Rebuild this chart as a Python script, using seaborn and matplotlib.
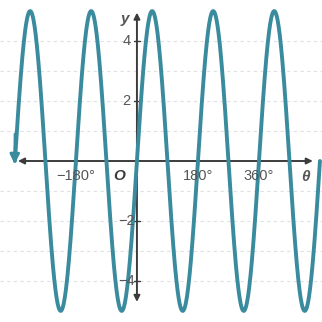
import numpy as np
import matplotlib
matplotlib.use("Agg")
import matplotlib.pyplot as plt
import seaborn as sns

# values: y = 5 sin(2 theta)
amplitude = 5
period_deg = 180
theta_start = -360
theta_end = 540
x_tick_values = [-180, 180, 360]
x_tick_labels = ["\u2212180\u00b0", "180\u00b0", "360\u00b0"]
y_tick_values = [4, 2, -2, -4]
y_tick_labels = ["4", "2", "\u22122", "\u22124"]
grid_levels = [-4, -3, -2, -1, 1, 2, 3, 4]

curve_color = "#3a8b9e"
axis_color = "#3c3c3c"
text_color = "#555555"

sns.set_theme(style="white")
plt.rcParams["font.family"] = ["Liberation Sans", "DejaVu Sans"]

theta = np.arange(theta_start, theta_end + 1, 1.0)
y = amplitude * np.sin(np.radians(theta) * 360 / period_deg)

fig = plt.figure(figsize=(3.22, 3.22), dpi=100)
ax = fig.add_axes([0, 0, 1, 1])
ax.set_xlim(-404, 546)
ax.set_ylim(-5.37, 5.37)
ax.axis("off")

# faint dashed grid
for g in grid_levels:
    ax.axhline(g, color="#dde3e5", lw=0.8, ls=(0, (3, 3)), zorder=0)

# axes with arrows
ax.annotate("", xy=(519, 0), xytext=(-351, 0),
            arrowprops=dict(arrowstyle="<|-|>", color=axis_color, lw=1.4,
                            mutation_scale=9, shrinkA=0, shrinkB=0), zorder=2)
ax.annotate("", xy=(0, 4.95), xytext=(0, -4.7),
            arrowprops=dict(arrowstyle="<|-|>", color=axis_color, lw=1.4,
                            mutation_scale=9, shrinkA=0, shrinkB=0), zorder=2)

# tick marks
for xv in x_tick_values:
    ax.plot([xv, xv], [-0.12, 0.12], color=axis_color, lw=1, zorder=2)
for yv in y_tick_values:
    ax.plot([-8, 8], [yv, yv], color=axis_color, lw=1, zorder=2)

sns.lineplot(x=theta, y=y, ax=ax, color=curve_color, lw=2.8, sort=False,
             estimator=None, zorder=3)
# arrowhead at the left end of the curve
ax.annotate("", xy=(theta_start - 1, -0.1), xytext=(theta_start + 0.5, 0.9),
            arrowprops=dict(arrowstyle="-|>", color=curve_color, lw=2,
                            mutation_scale=14, shrinkA=0, shrinkB=0), zorder=3)

for xv, lab in zip(x_tick_values, x_tick_labels):
    ax.text(xv, -0.5, lab, ha="center", va="center", fontsize=10.5,
            color=text_color, zorder=4)
for yv, lab in zip(y_tick_values, y_tick_labels):
    ax.text(-30, yv, lab, ha="center", va="center", fontsize=10.5,
            color=text_color, zorder=4)

ax.text(-52, -0.5, "O", ha="center", va="center", fontsize=11,
        fontweight="bold", fontstyle="italic", color=axis_color, zorder=4)
ax.text(-35, 4.75, "y", ha="center", va="center", fontsize=11,
        fontstyle="italic", fontweight="bold", color=text_color, zorder=4)
ax.text(497, -0.55, "\u03b8", ha="center", va="center", fontsize=11,
        fontstyle="italic", fontweight="bold", color=text_color, zorder=4)

fig.savefig("out.png", dpi=100, facecolor="white")
